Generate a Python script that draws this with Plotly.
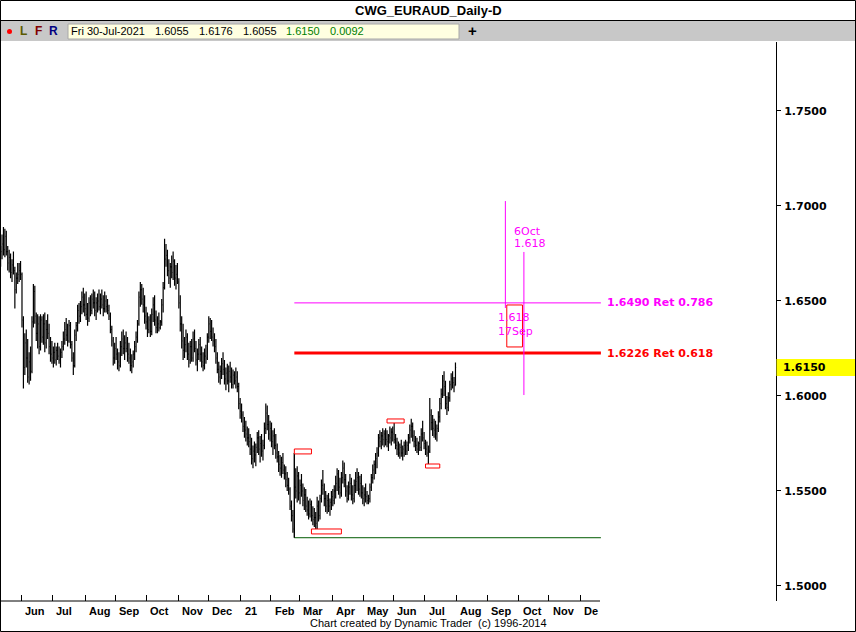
import pandas as pd
import plotly.graph_objects as go

# ---------------- data (EURAUD daily) ----------------
START = "2020-05-11"

opens = [
    1.6700, 1.6760, 1.6800, 1.6770, 1.6840, 1.6760, 1.6700, 1.6730, 1.6650, 1.6690,
    1.6660, 1.6560, 1.6620, 1.6640, 1.6660, 1.6640, 1.6400, 1.6150, 1.6280, 1.6200,
    1.6100, 1.6180, 1.6130, 1.6390, 1.6550, 1.6420, 1.6330, 1.6380, 1.6260, 1.6400,
    1.6310, 1.6380, 1.6280, 1.6350, 1.6330, 1.6260, 1.6220, 1.6200, 1.6230, 1.6190,
    1.6240, 1.6210, 1.6190, 1.6230, 1.6260, 1.6300, 1.6350, 1.6320, 1.6290, 1.6370,
    1.6270, 1.6200, 1.6160, 1.6320, 1.6370, 1.6450, 1.6420, 1.6470, 1.6520, 1.6480,
    1.6460, 1.6430, 1.6410, 1.6490, 1.6450, 1.6510, 1.6490, 1.6450, 1.6490, 1.6500,
    1.6470, 1.6510, 1.6480, 1.6460, 1.6500, 1.6470, 1.6450, 1.6420, 1.6350, 1.6290,
    1.6200, 1.6250, 1.6220, 1.6180, 1.6160, 1.6260, 1.6300, 1.6250, 1.6280, 1.6250,
    1.6220, 1.6200, 1.6160, 1.6180, 1.6220, 1.6260, 1.6310, 1.6380, 1.6520, 1.6560,
    1.6510, 1.6480, 1.6420, 1.6390, 1.6350, 1.6400, 1.6340, 1.6430, 1.6480, 1.6400,
    1.6360, 1.6380, 1.6360, 1.6390, 1.6480, 1.6570, 1.6720, 1.6740, 1.6660, 1.6620,
    1.6680, 1.6650, 1.6710, 1.6620, 1.6640, 1.6600, 1.6490, 1.6380, 1.6290, 1.6240,
    1.6270, 1.6310, 1.6220, 1.6190, 1.6260, 1.6200, 1.6300, 1.6250, 1.6190, 1.6220,
    1.6270, 1.6220, 1.6180, 1.6160, 1.6210, 1.6200, 1.6310, 1.6380, 1.6340, 1.6310,
    1.6290, 1.6260, 1.6200, 1.6140, 1.6100, 1.6130, 1.6170, 1.6140, 1.6090, 1.6120,
    1.6080, 1.6130, 1.6100, 1.6060, 1.6110, 1.6080, 1.6100, 1.6050, 1.5960, 1.5920,
    1.5900, 1.5840, 1.5820, 1.5800, 1.5780, 1.5760, 1.5720, 1.5670, 1.5710, 1.5690,
    1.5730, 1.5780, 1.5720, 1.5750, 1.5710, 1.5740, 1.5830, 1.5910, 1.5850, 1.5800,
    1.5830, 1.5760, 1.5790, 1.5740, 1.5700, 1.5680, 1.5640, 1.5620, 1.5650, 1.5610,
    1.5590, 1.5560, 1.5530, 1.5510, 1.5420, 1.5370, 1.5300, 1.5520, 1.5500, 1.5580,
    1.5490, 1.5530, 1.5500, 1.5450, 1.5480, 1.5420, 1.5400, 1.5380, 1.5430, 1.5370,
    1.5350, 1.5360, 1.5330, 1.5420, 1.5370, 1.5460, 1.5530, 1.5510, 1.5460, 1.5420,
    1.5450, 1.5420, 1.5440, 1.5470, 1.5450, 1.5500, 1.5540, 1.5590, 1.5520, 1.5490,
    1.5570, 1.5620, 1.5560, 1.5500, 1.5460, 1.5520, 1.5540, 1.5480, 1.5460, 1.5530,
    1.5550, 1.5570, 1.5510, 1.5540, 1.5490, 1.5460, 1.5480, 1.5470, 1.5450, 1.5460,
    1.5520, 1.5570, 1.5610, 1.5640, 1.5670, 1.5700, 1.5780, 1.5760, 1.5790, 1.5770,
    1.5800, 1.5770, 1.5760, 1.5790, 1.5780, 1.5810, 1.5800, 1.5770, 1.5740, 1.5720,
    1.5700, 1.5730, 1.5700, 1.5720, 1.5740, 1.5710, 1.5740, 1.5780, 1.5820, 1.5840,
    1.5790, 1.5760, 1.5740, 1.5720, 1.5750, 1.5730, 1.5800, 1.5780, 1.5750, 1.5720,
    1.5700, 1.5710, 1.5900, 1.5860, 1.5830, 1.5820, 1.5800, 1.5830, 1.5890, 1.5960,
    1.6010, 1.6080, 1.6050, 1.5960, 1.5940, 1.5990, 1.6060, 1.6090, 1.6070, 1.6055,
]
highs = [
    1.6790, 1.6850, 1.6890, 1.6880, 1.6870, 1.6790, 1.6770, 1.6750, 1.6720, 1.6760,
    1.6680, 1.6650, 1.6700, 1.6700, 1.6710, 1.6650, 1.6420, 1.6330, 1.6350, 1.6300,
    1.6230, 1.6260, 1.6420, 1.6590, 1.6580, 1.6440, 1.6430, 1.6420, 1.6430, 1.6420,
    1.6430, 1.6440, 1.6400, 1.6430, 1.6380, 1.6310, 1.6290, 1.6260, 1.6280, 1.6260,
    1.6280, 1.6260, 1.6250, 1.6290, 1.6340, 1.6390, 1.6410, 1.6380, 1.6400, 1.6390,
    1.6290, 1.6230, 1.6350, 1.6390, 1.6480, 1.6490, 1.6500, 1.6550, 1.6570, 1.6540,
    1.6550, 1.6490, 1.6520, 1.6530, 1.6540, 1.6560, 1.6550, 1.6520, 1.6540, 1.6560,
    1.6540, 1.6560, 1.6530, 1.6550, 1.6530, 1.6510, 1.6480, 1.6440, 1.6370, 1.6310,
    1.6280, 1.6310, 1.6250, 1.6230, 1.6290, 1.6340, 1.6350, 1.6320, 1.6340, 1.6310,
    1.6280, 1.6250, 1.6220, 1.6240, 1.6290, 1.6340, 1.6400, 1.6550, 1.6600, 1.6590,
    1.6570, 1.6530, 1.6470, 1.6440, 1.6420, 1.6430, 1.6460, 1.6520, 1.6530, 1.6450,
    1.6420, 1.6440, 1.6400, 1.6510, 1.6600, 1.6828, 1.6800, 1.6770, 1.6720, 1.6700,
    1.6740, 1.6760, 1.6720, 1.6690, 1.6700, 1.6620, 1.6530, 1.6420, 1.6380, 1.6310,
    1.6350, 1.6330, 1.6280, 1.6290, 1.6300, 1.6340, 1.6350, 1.6290, 1.6250, 1.6300,
    1.6310, 1.6260, 1.6230, 1.6250, 1.6270, 1.6330, 1.6420, 1.6410, 1.6400, 1.6360,
    1.6330, 1.6300, 1.6230, 1.6180, 1.6160, 1.6200, 1.6230, 1.6190, 1.6150, 1.6170,
    1.6160, 1.6180, 1.6150, 1.6140, 1.6130, 1.6150, 1.6130, 1.6070, 1.5990, 1.5960,
    1.5920, 1.5890, 1.5870, 1.5840, 1.5830, 1.5800, 1.5780, 1.5740, 1.5760, 1.5750,
    1.5810, 1.5820, 1.5790, 1.5800, 1.5770, 1.5860, 1.5960, 1.5950, 1.5900, 1.5870,
    1.5860, 1.5820, 1.5830, 1.5800, 1.5750, 1.5710, 1.5690, 1.5680, 1.5700, 1.5640,
    1.5630, 1.5600, 1.5570, 1.5520, 1.5450, 1.5400, 1.5700, 1.5620, 1.5630, 1.5600,
    1.5560, 1.5590, 1.5540, 1.5520, 1.5510, 1.5470, 1.5450, 1.5460, 1.5450, 1.5420,
    1.5410, 1.5390, 1.5470, 1.5450, 1.5480, 1.5560, 1.5610, 1.5540, 1.5500, 1.5480,
    1.5490, 1.5460, 1.5500, 1.5510, 1.5530, 1.5580, 1.5620, 1.5610, 1.5570, 1.5600,
    1.5660, 1.5650, 1.5590, 1.5530, 1.5550, 1.5590, 1.5570, 1.5530, 1.5560, 1.5600,
    1.5620, 1.5600, 1.5580, 1.5590, 1.5530, 1.5520, 1.5540, 1.5500, 1.5480, 1.5540,
    1.5590, 1.5640, 1.5660, 1.5700, 1.5730, 1.5800, 1.5820, 1.5810, 1.5830, 1.5820,
    1.5830, 1.5820, 1.5800, 1.5840, 1.5830, 1.5840, 1.5860, 1.5800, 1.5780, 1.5760,
    1.5750, 1.5770, 1.5740, 1.5760, 1.5770, 1.5760, 1.5800, 1.5850, 1.5880, 1.5860,
    1.5820, 1.5790, 1.5780, 1.5760, 1.5790, 1.5830, 1.5870, 1.5810, 1.5770, 1.5760,
    1.5740, 1.5990, 1.5930, 1.5900, 1.5880, 1.5870, 1.5850, 1.5920, 1.5990, 1.6040,
    1.6110, 1.6130, 1.6080, 1.6000, 1.6020, 1.6080, 1.6120, 1.6130, 1.6100, 1.6176,
]
lows = [
    1.6680, 1.6720, 1.6740, 1.6730, 1.6740, 1.6660, 1.6650, 1.6620, 1.6600, 1.6640,
    1.6460, 1.6540, 1.6590, 1.6600, 1.6610, 1.6360, 1.6040, 1.6110, 1.6150, 1.6070,
    1.6060, 1.6080, 1.6120, 1.6360, 1.6380, 1.6290, 1.6250, 1.6220, 1.6240, 1.6280,
    1.6270, 1.6230, 1.6250, 1.6300, 1.6220, 1.6180, 1.6170, 1.6150, 1.6170, 1.6160,
    1.6190, 1.6170, 1.6150, 1.6200, 1.6240, 1.6270, 1.6290, 1.6260, 1.6280, 1.6250,
    1.6180, 1.6110, 1.6150, 1.6290, 1.6340, 1.6380, 1.6390, 1.6430, 1.6440, 1.6420,
    1.6400, 1.6370, 1.6390, 1.6420, 1.6430, 1.6460, 1.6420, 1.6400, 1.6440, 1.6450,
    1.6430, 1.6460, 1.6420, 1.6440, 1.6440, 1.6430, 1.6400, 1.6330, 1.6260, 1.6160,
    1.6170, 1.6190, 1.6140, 1.6130, 1.6150, 1.6210, 1.6220, 1.6190, 1.6230, 1.6180,
    1.6170, 1.6130, 1.6120, 1.6150, 1.6190, 1.6230, 1.6280, 1.6370, 1.6470, 1.6480,
    1.6440, 1.6380, 1.6350, 1.6310, 1.6330, 1.6310, 1.6320, 1.6390, 1.6370, 1.6330,
    1.6330, 1.6340, 1.6350, 1.6370, 1.6440, 1.6560, 1.6680, 1.6630, 1.6590, 1.6570,
    1.6620, 1.6610, 1.6580, 1.6560, 1.6590, 1.6460, 1.6340, 1.6250, 1.6190, 1.6200,
    1.6230, 1.6190, 1.6150, 1.6170, 1.6180, 1.6180, 1.6230, 1.6160, 1.6130, 1.6190,
    1.6180, 1.6150, 1.6130, 1.6140, 1.6170, 1.6190, 1.6280, 1.6300, 1.6290, 1.6260,
    1.6230, 1.6170, 1.6120, 1.6070, 1.6060, 1.6090, 1.6110, 1.6060, 1.6030, 1.6060,
    1.6020, 1.6070, 1.6040, 1.6040, 1.6060, 1.6040, 1.6020, 1.5930, 1.5880, 1.5860,
    1.5810, 1.5780, 1.5760, 1.5740, 1.5730, 1.5690, 1.5640, 1.5620, 1.5650, 1.5630,
    1.5700, 1.5690, 1.5650, 1.5680, 1.5660, 1.5720, 1.5800, 1.5820, 1.5770, 1.5760,
    1.5730, 1.5690, 1.5720, 1.5670, 1.5650, 1.5600, 1.5580, 1.5570, 1.5590, 1.5560,
    1.5520, 1.5500, 1.5480, 1.5400, 1.5340, 1.5280, 1.5254, 1.5460, 1.5440, 1.5450,
    1.5430, 1.5470, 1.5420, 1.5400, 1.5390, 1.5370, 1.5350, 1.5360, 1.5340, 1.5320,
    1.5310, 1.5300, 1.5280, 1.5340, 1.5350, 1.5440, 1.5480, 1.5420, 1.5390, 1.5380,
    1.5390, 1.5370, 1.5400, 1.5420, 1.5430, 1.5460, 1.5500, 1.5480, 1.5460, 1.5470,
    1.5540, 1.5520, 1.5470, 1.5440, 1.5450, 1.5480, 1.5450, 1.5430, 1.5440, 1.5490,
    1.5500, 1.5480, 1.5470, 1.5460, 1.5430, 1.5420, 1.5440, 1.5430, 1.5430, 1.5440,
    1.5500, 1.5540, 1.5560, 1.5590, 1.5620, 1.5680, 1.5730, 1.5720, 1.5740, 1.5730,
    1.5740, 1.5730, 1.5710, 1.5750, 1.5740, 1.5760, 1.5750, 1.5720, 1.5690, 1.5680,
    1.5670, 1.5680, 1.5660, 1.5680, 1.5690, 1.5690, 1.5710, 1.5750, 1.5780, 1.5760,
    1.5730, 1.5710, 1.5700, 1.5690, 1.5710, 1.5710, 1.5760, 1.5720, 1.5690, 1.5680,
    1.5637, 1.5700, 1.5820, 1.5790, 1.5780, 1.5770, 1.5760, 1.5810, 1.5860, 1.5930,
    1.5990, 1.6000, 1.5930, 1.5900, 1.5920, 1.5970, 1.6030, 1.6040, 1.6020, 1.6055,
]
closes = [
    1.6760, 1.6800, 1.6770, 1.6840, 1.6760, 1.6700, 1.6730, 1.6650, 1.6690, 1.6660,
    1.6560, 1.6620, 1.6640, 1.6660, 1.6640, 1.6400, 1.6150, 1.6280, 1.6200, 1.6100,
    1.6180, 1.6130, 1.6390, 1.6550, 1.6420, 1.6330, 1.6380, 1.6260, 1.6400, 1.6310,
    1.6380, 1.6280, 1.6350, 1.6330, 1.6260, 1.6220, 1.6200, 1.6230, 1.6190, 1.6240,
    1.6210, 1.6190, 1.6230, 1.6260, 1.6300, 1.6350, 1.6320, 1.6290, 1.6370, 1.6270,
    1.6200, 1.6160, 1.6320, 1.6370, 1.6450, 1.6420, 1.6470, 1.6520, 1.6480, 1.6460,
    1.6430, 1.6410, 1.6490, 1.6450, 1.6510, 1.6490, 1.6450, 1.6490, 1.6500, 1.6470,
    1.6510, 1.6480, 1.6460, 1.6500, 1.6470, 1.6450, 1.6420, 1.6350, 1.6290, 1.6200,
    1.6250, 1.6220, 1.6180, 1.6160, 1.6260, 1.6300, 1.6250, 1.6280, 1.6250, 1.6220,
    1.6200, 1.6160, 1.6180, 1.6220, 1.6260, 1.6310, 1.6380, 1.6520, 1.6560, 1.6510,
    1.6480, 1.6420, 1.6390, 1.6350, 1.6400, 1.6340, 1.6430, 1.6480, 1.6400, 1.6360,
    1.6380, 1.6360, 1.6390, 1.6480, 1.6570, 1.6720, 1.6740, 1.6660, 1.6620, 1.6680,
    1.6650, 1.6710, 1.6620, 1.6640, 1.6600, 1.6490, 1.6380, 1.6290, 1.6240, 1.6270,
    1.6310, 1.6220, 1.6190, 1.6260, 1.6200, 1.6300, 1.6250, 1.6190, 1.6220, 1.6270,
    1.6220, 1.6180, 1.6160, 1.6210, 1.6200, 1.6310, 1.6380, 1.6340, 1.6310, 1.6290,
    1.6260, 1.6200, 1.6140, 1.6100, 1.6130, 1.6170, 1.6140, 1.6090, 1.6120, 1.6080,
    1.6130, 1.6100, 1.6060, 1.6110, 1.6080, 1.6100, 1.6050, 1.5960, 1.5920, 1.5900,
    1.5840, 1.5820, 1.5800, 1.5780, 1.5760, 1.5720, 1.5670, 1.5710, 1.5690, 1.5730,
    1.5780, 1.5720, 1.5750, 1.5710, 1.5740, 1.5830, 1.5910, 1.5850, 1.5800, 1.5830,
    1.5760, 1.5790, 1.5740, 1.5700, 1.5680, 1.5640, 1.5620, 1.5650, 1.5610, 1.5590,
    1.5560, 1.5530, 1.5510, 1.5420, 1.5370, 1.5300, 1.5520, 1.5500, 1.5580, 1.5490,
    1.5530, 1.5500, 1.5450, 1.5480, 1.5420, 1.5400, 1.5380, 1.5430, 1.5370, 1.5350,
    1.5360, 1.5330, 1.5420, 1.5370, 1.5460, 1.5530, 1.5510, 1.5460, 1.5420, 1.5450,
    1.5420, 1.5440, 1.5470, 1.5450, 1.5500, 1.5540, 1.5590, 1.5520, 1.5490, 1.5570,
    1.5620, 1.5560, 1.5500, 1.5460, 1.5520, 1.5540, 1.5480, 1.5460, 1.5530, 1.5550,
    1.5570, 1.5510, 1.5540, 1.5490, 1.5460, 1.5480, 1.5470, 1.5450, 1.5460, 1.5520,
    1.5570, 1.5610, 1.5640, 1.5670, 1.5700, 1.5780, 1.5760, 1.5790, 1.5770, 1.5800,
    1.5770, 1.5760, 1.5790, 1.5780, 1.5810, 1.5800, 1.5770, 1.5740, 1.5720, 1.5700,
    1.5730, 1.5700, 1.5720, 1.5740, 1.5710, 1.5740, 1.5780, 1.5820, 1.5840, 1.5790,
    1.5760, 1.5740, 1.5720, 1.5750, 1.5730, 1.5800, 1.5780, 1.5750, 1.5720, 1.5700,
    1.5710, 1.5900, 1.5860, 1.5830, 1.5820, 1.5800, 1.5830, 1.5890, 1.5960, 1.6010,
    1.6080, 1.6050, 1.5960, 1.5940, 1.5990, 1.6060, 1.6090, 1.6070, 1.6058, 1.6150,
]

month_labels = ["Jun", "Jul", "Aug", "Sep", "Oct", "Nov", "Dec", "21", "Feb", "Mar",
                "Apr", "May", "Jun", "Jul", "Aug", "Sep", "Oct", "Nov", "De"]
y_tick_values = [1.50, 1.55, 1.60, 1.65, 1.70, 1.75]

swing_low = 1.5254
ret_values = [1.6490, 1.6226]
ret_labels = ["1.6490 Ret 0.786", "1.6226 Ret 0.618"]
levels_start, levels_end = "2021-02-23", "2021-12-21"

# swing boxes: (start, end, top, bottom)
swing_boxes = [
    ("2021-02-23", "2021-03-11", 1.5721, 1.5695),
    ("2021-03-11", "2021-04-09", 1.5300, 1.5274),
    ("2021-05-25", "2021-06-10", 1.5879, 1.5858),
    ("2021-07-01", "2021-07-15", 1.5642, 1.5621),
]
time_box = ("2021-09-20", "2021-10-05", 1.6479, 1.6258)
# time projections: (date, low, high, text line 1, text line 2)
time_proj = [
    ("2021-09-17", 1.6463, 1.7026, "1.618", "17Sep"),
    ("2021-10-06", 1.6005, 1.6758, "6Oct", "1.618"),
]

# ---------------- helpers ----------------
W, H = 856, 632
PL, PR, PT, PB = 0, 776, 42, 601  # plot area in pixels

cal = pd.bdate_range(START, "2022-12-30")


def idx(d):
    return int(cal.searchsorted(pd.Timestamp(d)))


def px(x):
    return (x - PL) / (PR - PL)


def py(y):
    return (PB - y) / (PB - PT)


n = len(closes)
dates = cal[:n]
xs = [idx(d) for d in dates]

BLACK = "#000000"
MAG = "#ff00ff"
RED = "#ff0000"

fig = go.Figure()
fig.add_trace(go.Ohlc(
    x=xs, open=opens, high=highs, low=lows, close=closes,
    increasing=dict(line=dict(color=BLACK, width=1.2)),
    decreasing=dict(line=dict(color=BLACK, width=1.2)),
    tickwidth=0.5, hoverinfo="skip", showlegend=False,
))

shapes = []
annotations = []

# frame, title bar, toolbar
shapes.append(dict(type="rect", xref="paper", yref="paper", x0=px(1), x1=px(855), y0=py(21), y1=py(41),
                   fillcolor="#c8c8c8", line=dict(width=0), layer="below"))
shapes.append(dict(type="rect", xref="paper", yref="paper", x0=px(68), x1=px(459), y0=py(24), y1=py(39),
                   fillcolor="#ffffe1", line=dict(color="#a8a8a8", width=1)))
shapes.append(dict(type="line", xref="paper", yref="paper", x0=px(0), x1=px(856), y0=py(20.5), y1=py(20.5),
                   line=dict(color=BLACK, width=1)))
shapes.append(dict(type="rect", xref="paper", yref="paper", x0=px(0.5), x1=px(855.5), y0=py(0.5), y1=py(631.5),
                   line=dict(color=BLACK, width=1)))
shapes.append(dict(type="circle", xref="paper", yref="paper", x0=px(7), x1=px(12), y0=py(29), y1=py(34),
                   fillcolor=RED, line=dict(color=RED, width=0)))
# bottom date-axis line (only under the dated strip)
shapes.append(dict(type="line", xref="paper", yref="paper", x0=px(0), x1=px(600), y0=py(PB), y1=py(PB),
                   line=dict(color=BLACK, width=1)))
# last price box on right scale
shapes.append(dict(type="rect", xref="paper", yref="paper", x0=px(776.5), x1=px(855), y0=py(359),
                   y1=py(376), fillcolor="#ffff00", line=dict(width=0)))

# retracement levels and swing low line
x0l, x1l = idx(levels_start), idx(levels_end)
shapes.append(dict(type="line", x0=x0l, x1=x1l, y0=swing_low, y1=swing_low, line=dict(color="#005a00", width=1)))
shapes.append(dict(type="line", x0=x0l, x1=x0l, y0=swing_low, y1=highs[idx(levels_start)],
                   line=dict(color=BLACK, width=1)))
for val, lab, col, w in zip(ret_values, ret_labels, [MAG, RED], [1, 3]):
    shapes.append(dict(type="line", x0=x0l, x1=x1l, y0=val, y1=val, line=dict(color=col, width=w)))
    annotations.append(dict(x=x1l, y=val, xref="x", yref="y", text=lab, showarrow=False, xanchor="left",
                            yanchor="middle", xshift=4,
                            font=dict(family="DejaVu Sans", size=11, color=col, weight="bold")))

for s, e, top, bot in swing_boxes:
    shapes.append(dict(type="rect", x0=idx(s), x1=idx(e), y0=bot, y1=top, fillcolor="white",
                       line=dict(color=RED, width=1)))

shapes.append(dict(type="rect", x0=idx(time_box[0]), x1=idx(time_box[1]), y0=time_box[3], y1=time_box[2],
                   line=dict(color=RED, width=1)))

for (d, lo, hi, t1, t2), shift, ty in zip(time_proj, [-9.5, -12], [(1.6411, 1.6342), (1.6868, 1.6800)]):
    xi = idx(d)
    shapes.append(dict(type="line", x0=xi, x1=xi, y0=lo, y1=hi, line=dict(color=MAG, width=1)))
    for txt, yy in zip([t1, t2], ty):
        annotations.append(dict(x=xi, y=yy, xref="x", yref="y", text=txt, showarrow=False, xanchor="left",
                                yanchor="middle", xshift=shift,
                                font=dict(family="DejaVu Sans", size=11, color=MAG)))

# month labels (left aligned after month-start ticks)
month_starts = [idx(m) for m in pd.date_range("2020-06-01", "2021-12-01", freq="MS")]
for m, lab in zip(month_starts, month_labels):
    annotations.append(dict(x=m, y=py(611), xref="x", yref="paper", text=lab, showarrow=False,
                            xanchor="left", yanchor="middle", xshift=1,
                            font=dict(family="Liberation Sans", size=11, color=BLACK, weight="bold")))

# title, toolbar, footer
annotations.append(dict(x=px(428), y=py(11), xref="paper", yref="paper", text="CWG_EURAUD_Daily-D",
                        showarrow=False, xanchor="center", yanchor="middle",
                        font=dict(family="Liberation Sans", size=13, color=BLACK, weight="bold")))
for t, x, c in [("L", 18, "#5a5a00"), ("F", 33, "#800000"), ("R", 47, "#000080")]:
    annotations.append(dict(x=px(x), y=py(31), xref="paper", yref="paper", text=t, showarrow=False,
                            xanchor="left", yanchor="middle",
                            font=dict(family="Liberation Sans", size=12, color=c, weight="bold")))
change = closes[-1] - closes[-2]
info = [(dates[-1].strftime("%a %d-%b-%Y"), 69, BLACK), (f"{opens[-1]:.4f}", 153, BLACK),
        (f"{highs[-1]:.4f}", 197, BLACK), (f"{lows[-1]:.4f}", 241, BLACK),
        (f"{closes[-1]:.4f}", 284, "#008000"), (f"{change:.4f}", 328, "#008000")]
for t, x, c in info:
    annotations.append(dict(x=px(x), y=py(31.5), xref="paper", yref="paper", text=t, showarrow=False,
                            xanchor="left", yanchor="middle",
                            font=dict(family="Liberation Sans", size=11, color=c)))
annotations.append(dict(x=px(472.5), y=py(31), xref="paper", yref="paper", text="+", showarrow=False,
                        xanchor="center", yanchor="middle",
                        font=dict(family="Liberation Sans", size=15, color=BLACK, weight="bold")))
annotations.append(dict(x=px(428), y=py(623), xref="paper", yref="paper",
                        text="Chart created by Dynamic Trader  (c) 1996-2014", showarrow=False,
                        xanchor="center", yanchor="middle",
                        font=dict(family="Liberation Sans", size=11, color=BLACK)))
annotations.append(dict(x=px(781), y=closes[-1], xref="paper", yref="y", text=f"{closes[-1]:.4f}",
                        showarrow=False, xanchor="left", yanchor="middle",
                        font=dict(family="DejaVu Sans", size=11, color=BLACK, weight="bold")))

fig.update_layout(
    width=W, height=H,
    margin=dict(l=PL, r=W - PR, t=PT, b=H - PB, pad=0),
    paper_bgcolor="white", plot_bgcolor="white",
    showlegend=False,
    shapes=shapes, annotations=annotations,
    xaxis=dict(range=[-0.42, 543.8], rangeslider=dict(visible=False), showgrid=False, zeroline=False,
               showline=False, tickmode="array", tickvals=[m - 0.5 for m in month_starts],
               showticklabels=False, ticks="inside", ticklen=6, tickcolor=BLACK, tickwidth=1),
    yaxis=dict(side="right", range=[1.4921, 1.7863], showgrid=False, zeroline=False,
               showline=True, linecolor=BLACK, linewidth=1, tickmode="array",
               tickvals=y_tick_values, ticktext=[f"{v:.4f}" for v in y_tick_values],
               ticks="outside", ticklen=4, tickcolor=BLACK, ticklabelstandoff=1,
               tickfont=dict(family="DejaVu Sans", size=11, color=BLACK, weight="bold")),
)

fig.write_html(
    "out.html",
    config={"displayModeBar": False},
    post_script="document.body.style.margin='0';document.body.style.overflow='hidden';",
)
